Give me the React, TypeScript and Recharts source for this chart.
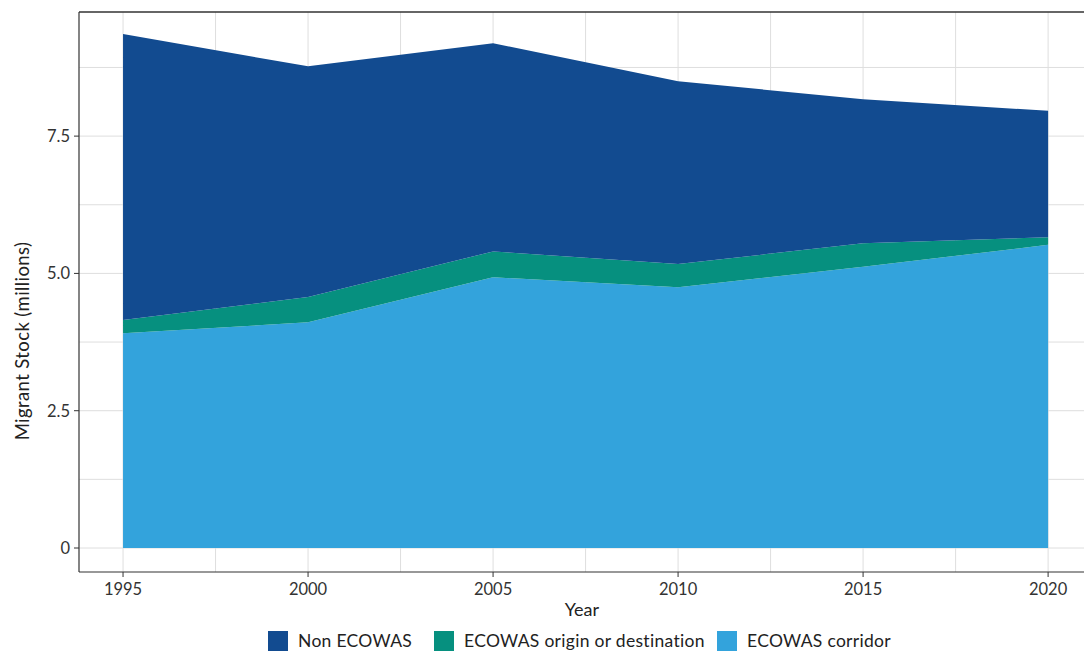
import { AreaChart, Area, XAxis, YAxis, CartesianGrid, ReferenceLine } from "recharts";

const years = [1995, 2000, 2005, 2010, 2015, 2020];
const corridor = [3.91, 4.11, 4.93, 4.75, 5.12, 5.52];
const originDest = [0.24, 0.46, 0.47, 0.42, 0.43, 0.14];
const nonEcowas = [5.21, 4.2, 3.79, 3.33, 2.62, 2.3];

const yTicks = [0, 2.5, 5, 7.5];
const yGrid = [0, 1.25, 2.5, 3.75, 5, 6.25, 7.5, 8.75];
const xGrid = [1995, 1997.5, 2000, 2002.5, 2005, 2007.5, 2010, 2012.5, 2015, 2017.5, 2020];

const series = [
  { key: "nonEcowas", name: "Non ECOWAS", color: "#124b90", width: 166 },
  { key: "originDest", name: "ECOWAS origin or destination", color: "#06907f", width: 283 },
  { key: "corridor", name: "ECOWAS corridor", color: "#33a3dc", width: 200 },
];

const data = years.map((y, i) => ({
  year: y,
  corridor: corridor[i],
  originDest: originDest[i],
  nonEcowas: nonEcowas[i],
}));

const FONT = "Lato, 'DejaVu Sans', sans-serif";
const Y_MAX = 9.76;

export default function App() {
  return (
    <div style={{ position: "absolute", left: 0, top: 0, width: 1084, height: 651, fontFamily: FONT }}>
      <AreaChart width={1084} height={651} data={data} margin={{ top: 12, right: 0, left: 0, bottom: 0 }}>
        <CartesianGrid stroke="#dedede" strokeWidth={1} horizontalValues={yGrid} verticalValues={xGrid} />
        <XAxis
          dataKey="year"
          type="number"
          domain={[1993.81, 2020.97]}
          allowDataOverflow
          ticks={years}
          height={79}
          tickSize={5}
          tickLine={{ stroke: "#333" }}
          axisLine={{ stroke: "#333", strokeWidth: 1.2 }}
          tick={{ fill: "#333", fontSize: 16.5, fontFamily: FONT, dy: 4 }}
          label={{
            content: () => (
              <text x={582} y={616} textAnchor="middle" fill="#222" fontSize={18} fontFamily={FONT}>
                Year
              </text>
            ),
          }}
        />
        <YAxis
          type="number"
          domain={[-0.437, Y_MAX]}
          allowDataOverflow
          ticks={yTicks}
          width={79}
          tickSize={5}
          tickLine={{ stroke: "#333" }}
          axisLine={{ stroke: "#333", strokeWidth: 1.2 }}
          tick={{ fill: "#333", fontSize: 16.5, fontFamily: FONT, dx: -2 }}
          tickFormatter={(v: number) => (v === 0 ? "0" : v.toFixed(1))}
          label={{
            content: () => (
              <text
                x={29}
                y={341}
                textAnchor="middle"
                fill="#222"
                fontSize={18.5}
                letterSpacing={0.4}
                fontFamily={FONT}
                transform="rotate(-90 29 341)"
              >
                Migrant Stock (millions)
              </text>
            ),
          }}
        />
        <Area type="linear" dataKey="corridor" stackId="1" stroke="none" fill="#33a3dc" fillOpacity={1} isAnimationActive={false} />
        <Area type="linear" dataKey="originDest" stackId="1" stroke="none" fill="#06907f" fillOpacity={1} isAnimationActive={false} />
        <Area type="linear" dataKey="nonEcowas" stackId="1" stroke="none" fill="#124b90" fillOpacity={1} isAnimationActive={false} />
        <ReferenceLine y={Y_MAX} stroke="#333" strokeWidth={1.5} ifOverflow="extendDomain" />
      </AreaChart>
      <div
        style={{
          position: "absolute",
          left: 268,
          top: 631,
          display: "flex",
          alignItems: "center",
          fontSize: 17.5,
          color: "#222",
          whiteSpace: "nowrap",
        }}
      >
        {series.map((s) => (
          <div key={s.key} style={{ display: "flex", alignItems: "center", width: s.width }}>
            <span style={{ display: "inline-block", width: 20, height: 20, background: s.color, marginRight: 10 }} />
            <span style={{ lineHeight: "20px", letterSpacing: 0.3 }}>{s.name}</span>
          </div>
        ))}
      </div>
    </div>
  );
}
